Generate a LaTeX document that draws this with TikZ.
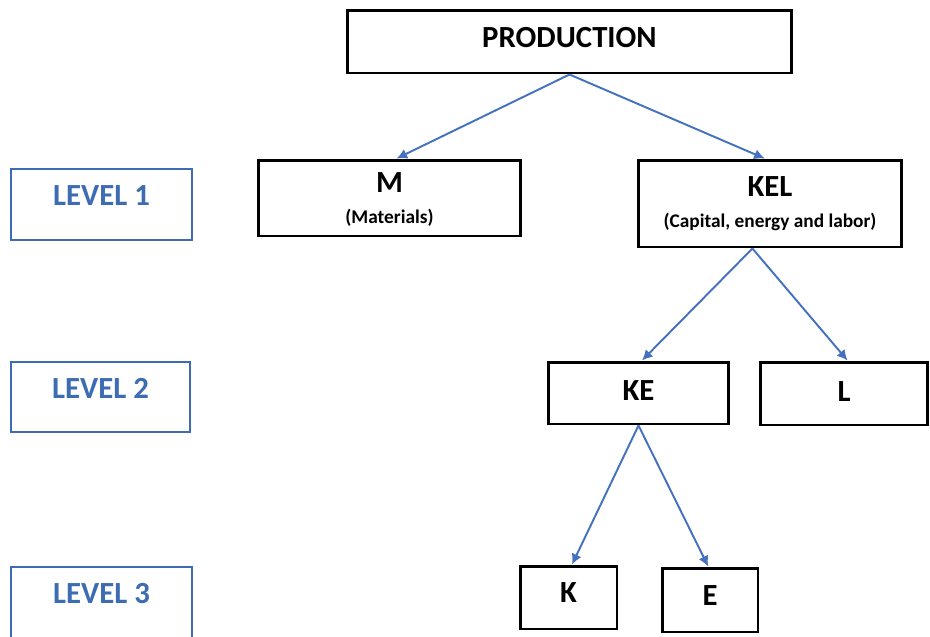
\documentclass[tikz,border=0pt]{standalone}
\usepackage{fontspec}
\setmainfont{Carlito}
\usepackage{xcolor}
\usepackage{tikz}
\usetikzlibrary{arrows.meta}
\usetikzlibrary{positioning}
\definecolor{levelblue}{RGB}{62,108,178}
\definecolor{arrowblue}{RGB}{68,114,190}
\tikzset{treebox/.style={draw=black, line width=1.7pt, fill=white, align=center, inner sep=0pt, font=\bfseries\fontsize{17.5}{19}\selectfont}}
\tikzset{levelbox/.style={draw=levelblue, line width=1.2pt, text=levelblue, inner sep=0pt, text depth=0.36cm, font=\bfseries\fontsize{17.5}{19}\selectfont}}
\tikzset{branch/.style={draw=arrowblue, line width=1.1pt, -{Latex[length=6pt,width=6pt]}}}
\newcommand{\subtext}[1]{\\[-1pt]{\fontsize{11}{12}\selectfont #1}}

\begin{document}
\begin{tikzpicture}[x=0.02cm,y=-0.02cm]
\useasboundingbox (0,0) rectangle (930,636);
\clip (0,0) rectangle (930,636);
%levels
\node[levelbox, minimum width=3.62cm, minimum height=1.42cm] (lev1) at (101.5,204.5) {LEVEL 1};
\node[levelbox, minimum width=3.58cm, minimum height=1.40cm] (lev2) at (100.5,397) {LEVEL 2};
\node[levelbox, minimum width=3.62cm, minimum height=1.42cm] (lev3) at (101.5,602.5) {LEVEL 3};
%tree
\node[treebox, minimum width=8.9cm, minimum height=1.26cm, text depth=5pt] (prod) at (569.5,41.5) {PRODUCTION};
\node[treebox, minimum width=5.26cm, minimum height=1.52cm, text depth=-3.5pt] (m) at (389.5,198) {M\subtext{(Materials)}};
\node[treebox, minimum width=5.28cm, minimum height=1.74cm] (kel) at (770,203.5) {KEL\subtext{(Capital, energy and labor)}};
\node[treebox, minimum width=3.62cm, minimum height=1.24cm, text depth=2.3pt] (ke) at (638.5,393) {KE};
\node[treebox, minimum width=3.36cm, minimum height=1.26cm, text depth=2.8pt] (l) at (844,393.5) {L};
\node[treebox, minimum width=1.94cm, minimum height=1.26cm, text depth=5.7pt] (k) at (568.5,597.5) {K};
\node[treebox, minimum width=1.92cm, minimum height=1.28cm, text depth=5pt] (e) at (710,600) {E};
\draw[branch] (prod.south) -- ([xshift=4pt]m.north);
\draw[branch] (prod.south) -- ([xshift=-3pt]kel.north);
\draw[branch] ([xshift=-10pt]kel.south) -- ([xshift=2pt]ke.north);
\draw[branch] ([xshift=-10pt]kel.south) -- ([xshift=2pt]l.north);
\draw[branch] (ke.south) -- ([xshift=2pt]k.north);
\draw[branch] (ke.south) -- ([xshift=-1pt]e.north);
\end{tikzpicture}
\end{document}
